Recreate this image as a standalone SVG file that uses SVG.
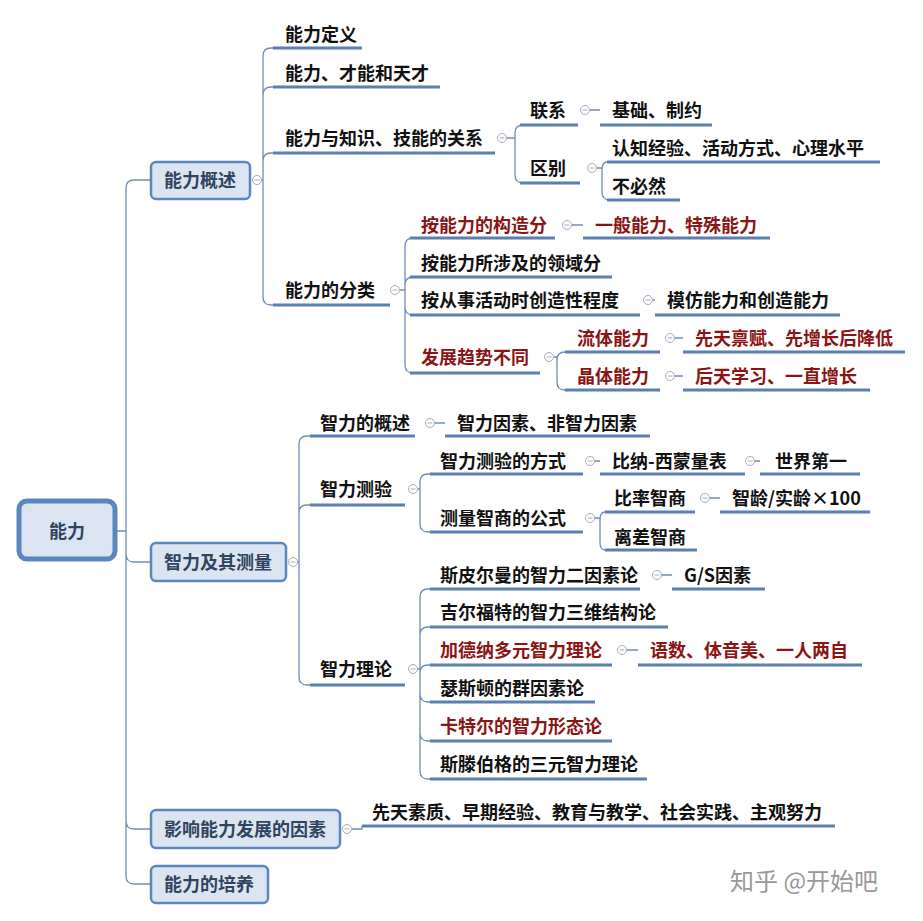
<svg xmlns="http://www.w3.org/2000/svg" width="923" height="921" viewBox="0 0 923 921">
<style>
text{font-family:"Noto Sans CJK SC","Noto Sans",sans-serif;font-size:18px;font-weight:bold;fill:#111}
.r{fill:#8b1414}
.b{fill:#2f4461;text-anchor:middle}
.u{stroke:#5b7fb0;stroke-width:3;fill:none}
.c{stroke:#6f8db5;stroke-width:1.3;fill:none}
.box{fill:#dbe5f1;stroke:#5b86c0;stroke-width:2.5}
.o{fill:#fff;stroke:#aab;stroke-width:1}
.m{stroke:#aab;stroke-width:1}
</style>
<defs><g id="col"><circle r="4.5" class="o"/><line x1="-2.5" x2="2.5" class="m"/></g></defs>
<rect width="923" height="921" fill="#fff"/>
<g id="connectors">
<path class="c" d="M116 531H126M126 531V188Q126 180 134 180H151M126 531V554Q126 562 134 562H151M126 531V821Q126 829 134 829H151M126 531V876Q126 884 134 884H151"/>
<path class="c" d="M262 180H263V56Q263 48 271 48H273M263 180V95Q263 87 271 87H273M263 180V161Q263 153 271 153H273M263 180V297Q263 305 271 305H273"/>
<path class="c" d="M507 138H515V133Q515 125 523 125H525M515 138V175Q515 183 523 183H525"/>
<path class="c" d="M590 110H600M597 168H602V170Q602 162 607 162M602 168V192Q602 200 610 200"/>
<path class="c" d="M400 290H405V246Q405 238 413 238M405 290V285Q405 277 413 277M405 290V307Q405 315 413 315M405 290V365Q405 373 413 373"/>
<path class="c" d="M572 225H583M653 300H655M554 357H557V360Q557 352 565 352M557 357V382Q557 390 565 390M675 338H683M675 376H683"/>
<path class="c" d="M298 562H299V444Q299 436 307 436H310M299 562V513Q299 505 307 505H310M299 562V677Q299 685 307 685H310"/>
<path class="c" d="M435 423H445M418 489H420V482Q420 474 428 474H430M420 489V524Q420 532 428 532H430M595 461H600M755 461H760"/>
<path class="c" d="M595 518H600V520Q600 512 605 512M600 518V542Q600 550 605 550M710 498H720"/>
<path class="c" d="M418 669H420V597Q420 589 428 589H430M420 669V635Q420 627 428 627H430M420 669V673Q420 665 428 665H430M420 669V694Q420 702 428 702H430M420 669V733Q420 741 428 741H430M420 669V771Q420 779 428 779H430M662 575H672M627 650H638"/>
<path class="c" d="M352 829H362V826"/>
</g>
<g id="root"><rect class="box" x="19" y="501" width="96" height="58" rx="8" style="stroke-width:5"/><text class="b" x="67" y="538">能力</text></g>
<g id="n1"><rect class="box" x="151" y="162" width="99" height="37" rx="5"/><text class="b" x="200" y="187">能力概述</text><use href="#col" x="257" y="180"/></g>
<g id="n2"><rect class="box" x="151" y="543" width="135" height="38" rx="5"/><text class="b" x="218" y="569">智力及其测量</text><use href="#col" x="293" y="562"/></g>
<g id="n3"><rect class="box" x="151" y="810" width="189" height="38" rx="5"/><text class="b" x="245" y="836">影响能力发展的因素</text><use href="#col" x="347" y="829"/></g>
<g id="n4"><rect class="box" x="151" y="866" width="117" height="37" rx="5"/><text class="b" x="209" y="891">能力的培养</text></g>
<g id="leaves">
<text x="285" y="41">能力定义</text><path class="u" d="M273 48H362"/>
<text x="285" y="80">能力、才能和天才</text><path class="u" d="M273 87H440"/>
<text x="285" y="145">能力与知识、技能的关系</text><path class="u" d="M273 153H495"/><use href="#col" x="502" y="138"/>
<text x="285" y="297">能力的分类</text><path class="u" d="M273 305H390"/><use href="#col" x="395" y="290"/>
<text x="530" y="117">联系</text><path class="u" d="M520 125H578"/><use href="#col" x="585" y="110"/>
<text x="612" y="117">基础、制约</text><path class="u" d="M600 125H712"/>
<text x="530" y="175">区别</text><path class="u" d="M520 183H580"/><use href="#col" x="592" y="168"/>
<text x="612" y="155">认知经验、活动方式、心理水平</text><path class="u" d="M607 162H880"/>
<text x="612" y="193">不必然</text><path class="u" d="M607 200H680"/>
<text class="r" x="421" y="232">按能力的构造分</text><path class="u" d="M410 238H555"/><use href="#col" x="567" y="225"/>
<text class="r" x="595" y="232">一般能力、特殊能力</text><path class="u" d="M583 238H770"/>
<text x="421" y="270">按能力所涉及的领域分</text><path class="u" d="M410 277H612"/>
<text x="421" y="307">按从事活动时创造性程度</text><path class="u" d="M410 315H640"/><use href="#col" x="648" y="300"/>
<text x="667" y="307">模仿能力和创造能力</text><path class="u" d="M655 315H840"/>
<text class="r" x="421" y="364">发展趋势不同</text><path class="u" d="M410 373H540"/><use href="#col" x="549" y="357"/>
<text class="r" x="577" y="345">流体能力</text><path class="u" d="M565 352H660"/><use href="#col" x="670" y="338"/>
<text class="r" x="695" y="345">先天禀赋、先增长后降低</text><path class="u" d="M683 352H905"/>
<text class="r" x="577" y="383">晶体能力</text><path class="u" d="M565 390H660"/><use href="#col" x="670" y="376"/>
<text class="r" x="695" y="383">后天学习、一直增长</text><path class="u" d="M683 390H870"/>
<text x="320" y="430">智力的概述</text><path class="u" d="M310 436H415"/><use href="#col" x="430" y="423"/>
<text x="457" y="430">智力因素、非智力因素</text><path class="u" d="M445 436H650"/>
<text x="320" y="496">智力测验</text><path class="u" d="M310 505H405"/><use href="#col" x="413" y="489"/>
<text x="440" y="468">智力测验的方式</text><path class="u" d="M430 474H583"/><use href="#col" x="590" y="461"/>
<text x="612" y="468">比纳-西蒙量表</text><path class="u" d="M600 474H745"/><use href="#col" x="750" y="461"/>
<text x="775" y="468">世界第一</text><path class="u" d="M760 474H860"/>
<text x="440" y="525">测量智商的公式</text><path class="u" d="M430 532H583"/><use href="#col" x="590" y="518"/>
<text x="614" y="505">比率智商</text><path class="u" d="M605 512H695"/><use href="#col" x="705" y="498"/>
<text x="732" y="505">智龄/实龄×100</text><path class="u" d="M720 512H870"/>
<text x="614" y="544">离差智商</text><path class="u" d="M605 550H697"/>
<text x="320" y="676">智力理论</text><path class="u" d="M310 685H405"/><use href="#col" x="413" y="669"/>
<text x="440" y="582">斯皮尔曼的智力二因素论</text><path class="u" d="M430 589H640"/><use href="#col" x="657" y="575"/>
<text x="684" y="582">G/S因素</text><path class="u" d="M672 589H765"/>
<text x="440" y="619">吉尔福特的智力三维结构论</text><path class="u" d="M430 627H668"/>
<text class="r" x="440" y="657">加德纳多元智力理论</text><path class="u" d="M430 665H612"/><use href="#col" x="622" y="650"/>
<text class="r" x="650" y="657">语数、体音美、一人两自</text><path class="u" d="M638 665H862"/>
<text x="440" y="695">瑟斯顿的群因素论</text><path class="u" d="M430 702H595"/>
<text class="r" x="440" y="733">卡特尔的智力形态论</text><path class="u" d="M430 741H612"/>
<text x="440" y="771">斯滕伯格的三元智力理论</text><path class="u" d="M430 779H647"/>
<text x="372" y="819">先天素质、早期经验、教育与教学、社会实践、主观努力</text><path class="u" d="M362 826H835"/>
</g>
<text x="730" y="890" style="font-size:24px;font-weight:normal;fill:#999">知乎 @开始吧</text>
</svg>
